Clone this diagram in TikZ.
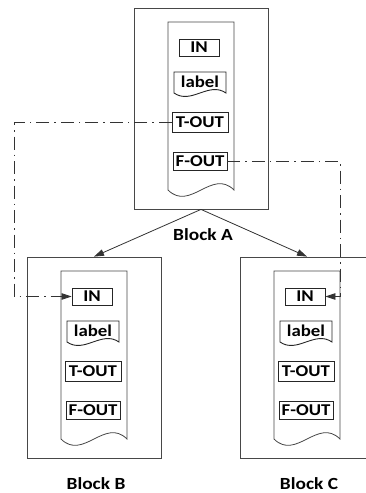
\documentclass[tikz,border=0pt]{standalone}
\usepackage{fontspec}
\usepackage{graphicx}
\setmainfont{Carlito}
\usetikzlibrary{arrows.meta}
\newcommand\wx[1]{\scalebox{1.14}[1]{#1}}
\tikzset{
  outerbox/.style={draw=black!72, line width=0.8pt, minimum width=134pt, minimum height=201pt, inner sep=0pt},
  tape/.style={draw=black!72, line width=0.8pt},
  smallbox/.style={draw=black!85, line width=0.9pt, inner sep=0pt, font=\fontsize{16.5}{19}\selectfont\bfseries},
  boxtext/.style={inner sep=0pt, font=\fontsize{16.5}{19}\selectfont\bfseries},
  blocktext/.style={inner sep=0pt, font=\fontsize{17}{20}\selectfont\bfseries},
  ddline/.style={draw=black!80, line width=0.8pt, dash pattern=on 13pt off 5pt on 1.5pt off 5pt},
  arrline/.style={draw=black!80, line width=0.8pt},
  tip/.style={-{Triangle[length=10pt,width=6.5pt]}}
}
\newcommand\myblock[4]{%
  % #1 name, #2 dx, #3 dy, #4 caption
  \node[outerbox] (#1) at ({201+#2},{108.5+#3}) {};
  \draw[tape] ({234+#2},{190+#3}) -- ({234+#2},{22+#3}) -- ({168+#2},{22+#3}) -- ({168+#2},{190+#3})
     .. controls ({190+#2},{212+#3}) and ({212+#2},{168+#3}) .. ({234+#2},{190+#3}) -- cycle;
  \node[smallbox, minimum width=40pt, minimum height=17pt] (#1-in) at ({199+#2},{47.5+#3}) {\wx{IN}};
  \draw[tape, draw=black!85, line width=0.9pt] ({226+#2},{93+#3}) -- ({226+#2},{72+#3}) -- ({174+#2},{72+#3}) -- ({174+#2},{93+#3})
     .. controls ({191.3+#2},{105+#3}) and ({208.7+#2},{81+#3}) .. ({226+#2},{93+#3}) -- cycle;
  \node[boxtext] (#1-label) at ({200+#2},{82+#3}) {\wx{label}};
  \node[smallbox, minimum width=56pt, minimum height=20pt] (#1-tout) at ({200+#2},{122+#3}) {\wx{T-OUT}};
  \node[smallbox, minimum width=54pt, minimum height=18pt] (#1-fout) at ({200+#2},{161+#3}) {\wx{F-OUT}};
  \node[blocktext] (#1-cap) at ({203+#2},{235+#3}) {\wx{#4}};
}
\begin{document}
\begin{tikzpicture}[x=1pt, y=-1pt]
  \useasboundingbox (0,0) rectangle (366,493);
  \clip (0,0) rectangle (366,493);
  \fill[white] (0,0) rectangle (366,493);
  \myblock{A}{0}{0}{Block A}
  \myblock{B}{-107}{249}{Block B}
  \myblock{C}{106}{249}{Block C}
  \draw[arrline, tip] (A.south) -- (B.north);
  \draw[arrline, tip] (A.south) -- (C.north);
  \draw[ddline, tip] (A-tout.west) -- ++(-157,0) |- (B-in.west);
  \draw[ddline, tip] (A-fout.east) -- ++(113,0) |- (C-in.east);
\end{tikzpicture}
\end{document}
